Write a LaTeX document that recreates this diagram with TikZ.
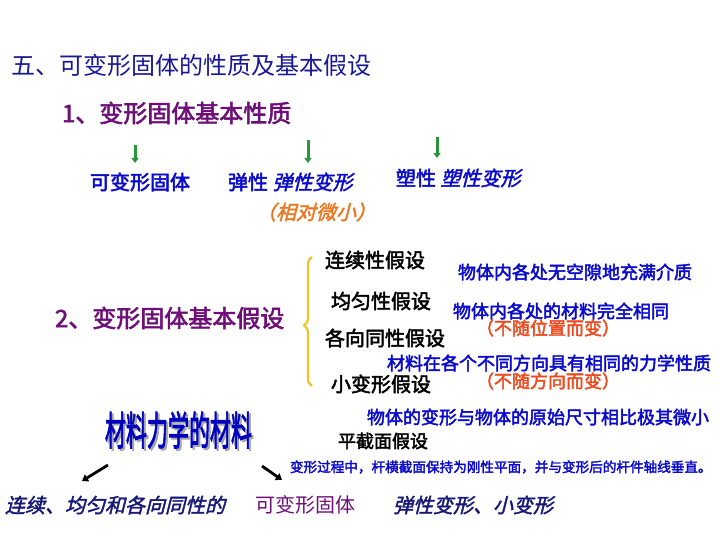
\documentclass[tikz,border=0pt]{standalone}
\usepackage{fontspec}
\newfontfamily\cjk{Noto Sans CJK SC}
\newfontfamily\cjkbf[FakeBold=2.5]{Noto Sans CJK SC}
\newfontfamily\cjkit[FakeSlant=0.25]{Noto Sans CJK SC}
\newfontfamily\cjkbit[FakeSlant=0.25,FakeBold=2]{Noto Sans CJK SC}
\usetikzlibrary{positioning, arrows.meta, decorations.pathreplacing}
\definecolor{navy}{RGB}{25,25,150}
\definecolor{deepblue}{RGB}{10,10,205}
\definecolor{plum}{RGB}{110,15,120}
\definecolor{ochre}{RGB}{235,120,35}
\definecolor{redorange}{RGB}{235,75,30}
\definecolor{brace}{RGB}{240,195,40}
\definecolor{leaf}{RGB}{40,150,60}
\definecolor{inkblue}{RGB}{25,25,120}

\begin{document}
\begin{tikzpicture}[
    x=1pt, y=-1pt,
    every node/.style={anchor=west, inner sep=0pt, outer sep=0pt},
    txt/.style={font={\fontsize{#1}{#1}\selectfont\cjk}},
    bold/.style={font={\fontsize{#1}{#1}\selectfont\cjkbf}},
    ital/.style={font={\fontsize{#1}{#1}\selectfont\cjkbit}},
    garrow/.style={draw=leaf, line width=3pt, -{Triangle[length=5pt, width=7pt]}},
    karrow/.style={draw=black, line width=2.8pt, -{Triangle[length=6pt, width=8pt]}}
  ]
  \useasboundingbox[fill=white] (0,0) rectangle (720,540);
  % headings
  \node[txt=24, text=navy] (title) at (12,65) {五、可变形固体的性质及基本假设};
  \node[bold=24, text=plum] (prop) at (62,113) {1、变形固体基本性质};
  % properties
  \node[bold=20, text=deepblue] (deform) at (90,182) {可变形固体};
  \node[bold=20, text=deepblue] (elastic) at (228,182) {弹性 {\cjkbit 弹性变形}};
  \node[bold=20, text=deepblue] (plastic) at (396,178) {塑性 {\cjkbit 塑性变形}};
  \node[ital=20, text=ochre] (small) at (256,212) {（相对微小）};
  \coordinate (g1s) at (135,145); \coordinate (g1e) at (135,163);
  \coordinate (g2s) at (308,140); \coordinate (g2e) at (308,163);
  \coordinate (g3s) at (437,137); \coordinate (g3e) at (437,158);
  \foreach \a in {g1, g2, g3}
    \draw[garrow] (\a s) -- (\a e);
  % assumptions
  \node[bold=24, text=plum] (assume) at (55,318) {2、变形固体基本假设};
  \coordinate (bbot) at (312,386); \coordinate (btop) at (312,257);
  \draw[brace, line width=2.2pt, decorate, decoration={brace, amplitude=8pt, aspect=0.47}] (bbot) -- (btop);
  \node[bold=20] (cont) at (325,260) {连续性假设};
  \node[bold=18, text=deepblue] (contd) at (458,272) {物体内各处无空隙地充满介质};
  \node[bold=20] (homo) at (331,301) {均匀性假设};
  \node[bold=18, text=deepblue] (homod) at (453,311) {物体内各处的材料完全相同};
  \node[bold=18, text=redorange] (homon) at (476,328) {（不随位置而变）};
  \node[bold=20] (iso) at (325,338) {各向同性假设};
  \node[bold=18, text=deepblue] (isod) at (387,363) {材料在各个不同方向具有相同的力学性质};
  \node[bold=20] (smalld) at (331,384) {小变形假设};
  \node[bold=18, text=redorange] (ison) at (476,381) {（不随方向而变）};
  \node[bold=18, text=deepblue] (smalldd) at (367,417) {物体的变形与物体的原始尺寸相比极其微小};
  \node[bold=18] (plane) at (338,441) {平截面假设};
  \node[bold=13.6, text=deepblue] (planed) at (290,467) {变形过程中，杆横截面保持为刚性平面，并与变形后的杆件轴线垂直。};
  % material of mechanics of materials
  \node[bold=21, text=black!35, yscale=1.9] (wordshadow) at (107,432) {材料力学的材料};
  \node[bold=21, text=blue!75!black, yscale=1.9] (wordart) at (105,430) {材料力学的材料};
  \coordinate (kls) at (108,465); \coordinate (kle) at (82,481);
  \coordinate (krs) at (262,466); \coordinate (kre) at (282,480);
  \draw[karrow] (kls) -- (kle);
  \draw[karrow] (krs) -- (kre);
  \node[ital=20, text=inkblue] (cont3) at (5,505) {连续、均匀和各向同性的};
  \node[txt=20, text=plum] (deform2) at (255,505) {可变形固体};
  \node[ital=20, text=inkblue] (elsmall) at (393,505) {弹性变形、小变形};
\end{tikzpicture}
\end{document}
